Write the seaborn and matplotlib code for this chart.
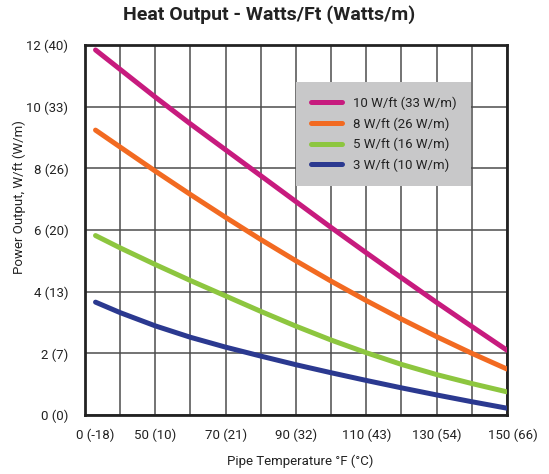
import matplotlib
matplotlib.use("Agg")
import matplotlib.pyplot as plt
import matplotlib.ticker as ticker
import matplotlib.transforms as mtransforms
import seaborn as sns
import pandas as pd

# values (W/ft vs pipe temperature in F)
temps = [33, 40, 50, 60, 70, 80, 90, 100, 110, 120, 130, 140, 150]
w10 = [11.84, 11.21, 10.31, 9.44, 8.60, 7.76, 6.92, 6.08, 5.26, 4.45, 3.65, 2.87, 2.10]
w8 = [9.24, 8.69, 7.91, 7.15, 6.41, 5.69, 5.00, 4.34, 3.71, 3.11, 2.54, 2.00, 1.49]
w5 = [5.82, 5.42, 4.88, 4.36, 3.86, 3.36, 2.88, 2.43, 2.02, 1.64, 1.31, 1.02, 0.75]
w3 = [3.66, 3.32, 2.89, 2.52, 2.20, 1.91, 1.63, 1.37, 1.12, 0.88, 0.65, 0.43, 0.22]

series_names = ['10 W/ft (33 W/m)', '8 W/ft (26 W/m)', '5 W/ft (16 W/m)', '3 W/ft (10 W/m)']
series_colors = ['#C71B7E', '#F26A21', '#8DC63F', '#2B3990']

xtick_vals = [30, 50, 70, 90, 110, 130, 150]
xtick_labels = ['0 (-18)', '50 (10)', '70 (21)', '90 (32)', '110 (43)', '130 (54)', '150 (66)']
ytick_vals = [0, 2, 4, 6, 8, 10, 12]
ytick_labels = ['0 (0)', '2 (7)', '4 (13)', '6 (20)', '8 (26)', '10 (33)', '12 (40)']

rows = []
for name, vals in zip(series_names, [w10, w8, w5, w3]):
    for t, v in zip(temps, vals):
        rows.append({'temp': t, 'watts': v, 'series': name})
df = pd.DataFrame(rows)

sns.set_style('white')
plt.rcParams['font.family'] = ['Roboto', 'DejaVu Sans']
txt = '#222222'

fig = plt.figure(figsize=(5.49, 4.74), dpi=100)
ax = fig.add_axes([0.1548, 0.1245, 0.7687, 0.7805])

sns.lineplot(data=df, x='temp', y='watts', hue='series', hue_order=series_names,
             palette=series_colors, linewidth=3.6, solid_capstyle='round',
             solid_joinstyle='round', ax=ax, zorder=3)

ax.set_xlim(30, 150)
ax.set_ylim(0, 12)
ax.xaxis.set_minor_locator(ticker.MultipleLocator(10))
ax.set_xticks(xtick_vals)
ax.set_xticklabels(xtick_labels)
ax.set_yticks(ytick_vals)
ax.set_yticklabels(ytick_labels)
ax.tick_params(axis='both', which='both', length=0, labelsize=9.5, colors=txt)
ax.tick_params(axis='x', pad=10)
ax.tick_params(axis='y', pad=12)
ax.grid(True, which='both', color='#4d4d4d', linewidth=1.1)
ax.set_axisbelow(True)

# nudge end labels like in the original
lbls = ax.get_xticklabels()
lbls[0].set_transform(lbls[0].get_transform() + mtransforms.ScaledTranslation(10 / 100, 0, fig.dpi_scale_trans))
lbls[-1].set_transform(lbls[-1].get_transform() + mtransforms.ScaledTranslation(6 / 100, 0, fig.dpi_scale_trans))

for s in ax.spines.values():
    s.set_color('#222222')
    s.set_linewidth(2.0)

ax.set_xlabel('Pipe Temperature °F (°C)', fontsize=9.5, color=txt)
ax.set_ylabel('Power Output, W/ft (W/m)', fontsize=9.5, color=txt)
ax.xaxis.set_label_coords(0.509, -0.108)
ax.yaxis.set_label_coords(-0.14, 0.59)

handles, labels = ax.get_legend_handles_labels()
leg = ax.legend(handles, labels, loc='upper left', bbox_to_anchor=(0.5, 0.9),
                frameon=True, facecolor='#C8C8C9', edgecolor='none', framealpha=1,
                fancybox=False, fontsize=9.5, handlelength=2.4, handletextpad=0.8,
                labelspacing=0.55, borderpad=1.1, borderaxespad=0)
for line in leg.get_lines():
    line.set_linewidth(3.6)
for t in leg.get_texts():
    t.set_color(txt)

fig.suptitle('Heat Output - Watts/Ft (Watts/m)', x=0.49, y=0.99, fontsize=14,
             fontweight='bold', color=txt)

fig.savefig('out.png', dpi=100)
